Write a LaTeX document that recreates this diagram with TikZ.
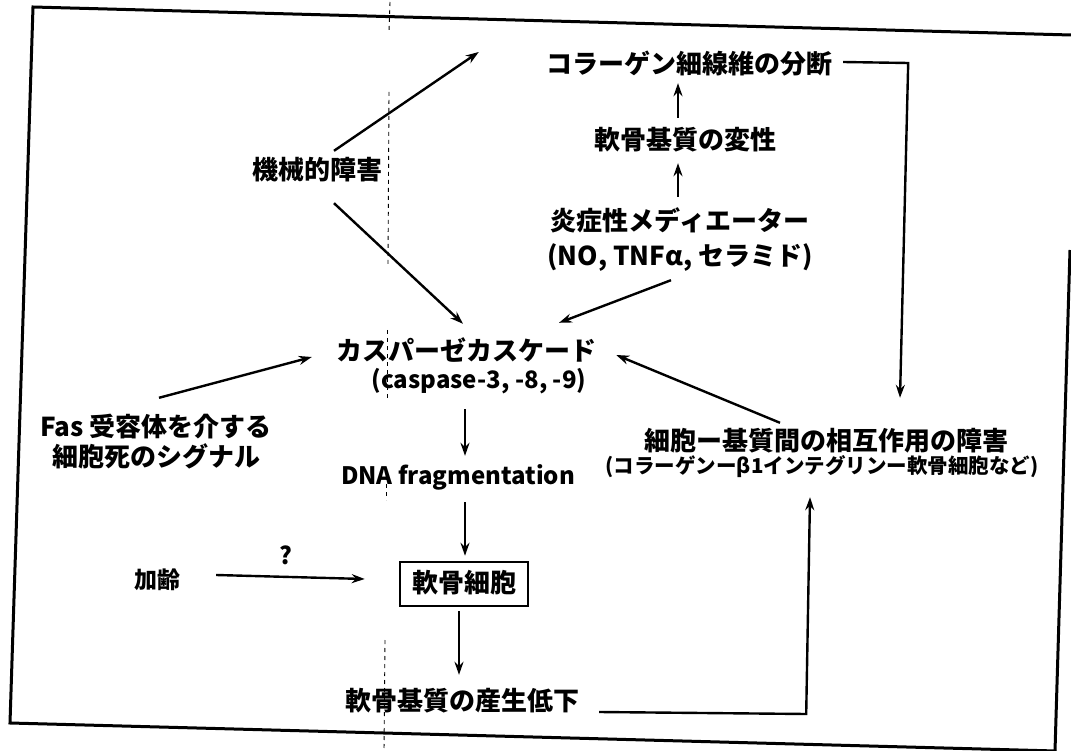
\documentclass[tikz,border=0pt]{standalone}
\usepackage{fontspec}
\setmainfont{Noto Sans CJK JP}
\usetikzlibrary{calc,arrows.meta}
\tikzset{
  lbl/.style={inner sep=0pt, font=\fontsize{26}{30}\selectfont\bfseries, text height=21pt, text depth=5pt},
  lat/.style={inner sep=0pt, font=\fontsize{24}{28}\selectfont\bfseries, text height=19pt, text depth=5pt},
  smalllbl/.style={inner sep=0pt, font=\fontsize{20.5}{24}\selectfont\bfseries, text height=16pt, text depth=4pt},
  arr/.style={line width=2.4pt, -{Stealth[length=13pt,width=9pt]}},
  frameline/.style={line width=3pt},
  fold/.style={line width=0.9pt, dash pattern=on 4pt off 4pt},
  boxed/.style={draw, line width=2.5pt, inner xsep=12pt, inner ysep=9pt}
}
\begin{document}
\begin{tikzpicture}[x=1pt,y=-1pt]
\useasboundingbox (0,0) rectangle (1071,751);
% frame (scanned, slightly rotated)
\draw[frameline] (1071,35) -- (33,7) -- (10,723) -- (1056,751);
\draw[frameline] (1070,250) -- (1055,751);
% fold line
\draw[fold] (390,2) -- (389,32);
\draw[fold] (389,92) -- (388,265);
\draw[fold] (387,330) -- (387,400);
\draw[fold] (386,468) -- (386,500);
\draw[fold] (385,640) -- (384,751);

% nodes
\node[lbl] (col) at (689,66) {コラーゲン細線維の分断};
\node[lbl] (hen) at (685,142) {軟骨基質の変性};
\node[lbl] (ens1) at (680,223) {炎症性メディエーター};
\node[lbl] (ens2) at (680,258) {(NO, TNFα, セラミド)};
\node[lbl] (kik) at (317,172) {機械的障害};
\node[lbl] (cas) at (466,352) {カスパーゼカスケード};
\node[lat] (cas2) at (479,381) {(caspase-3, -8, -9)};
\node[lbl] (fas1) at (156,428) {Fas 受容体を介する};
\node[lbl] (fas2) at (156,458) {細胞死のシグナル};
\node[lat] (dna) at (458,477) {DNA fragmentation};
\node[lbl, font=\fontsize{23}{26}\selectfont\bfseries] (kar) at (157,580) {加齢};
\node[lbl, boxed] (box) at (464,584) {軟骨細胞};
\node[lbl] (sei) at (462,702) {軟骨基質の産生低下};
\node[lbl] (sai1) at (826,442) {細胞ー基質間の相互作用の障害};
\node[smalllbl] (sai2) at (822,467) {(コラーゲンーβ1インテグリンー軟骨細胞など)};

% arrows
\draw[arr] ($(kik.north)+(17,-8)$) -- ($(col.west)+(-67,-14)$);
\draw[arr] ($(kik.south)+(17,18)$) -- ($(cas.north)+(-3,-15)$);
\draw[arr] ($(ens2.south)+(-9,9)$) -- ($(cas.north)+(93,-16)$);
\draw[arr] ($(hen.north)+(-7,-11)$) -- ($(col.south)+(-11,4)$);
\draw[arr] ($(ens1.north)+(-2,-13)$) -- ($(hen.south)+(-7,8)$);
\draw[arr] ($(fas1.north)+(3,-17)$) -- ($(cas.west)+(-24,5)$);
\draw[arr] ($(sai1.north)+(-46,-6)$) -- ($(cas.east)+(20,3)$);
\draw[arr] ($(col.east)+(11,-4)$) -- ($(col.east)+(76,-3)$) -- ($(sai1.north)+(74,-31)$);
\draw[arr] ($(cas2.south)+(-14,16)$) -- ($(dna.north)+(7,-9)$);
\draw[arr] ($(dna.south)+(7,13)$) -- ($(box.north)+(1,-5)$);
\draw[arr] ($(kar.east)+(36,-5)$) -- node[pos=0.47, above=6pt, lat] (q) {?} ($(box.west)+(-34,-5)$);
\draw[arr] ($(box.south)+(-5,4)$) -- ($(sei.north)+(-3,-14)$);
\draw[arr] ($(sei.east)+(20,10)$) -- ($(sei.east)+(227,12)$) -- ($(sai2.south)+(-12,20)$);
\end{tikzpicture}
\end{document}
